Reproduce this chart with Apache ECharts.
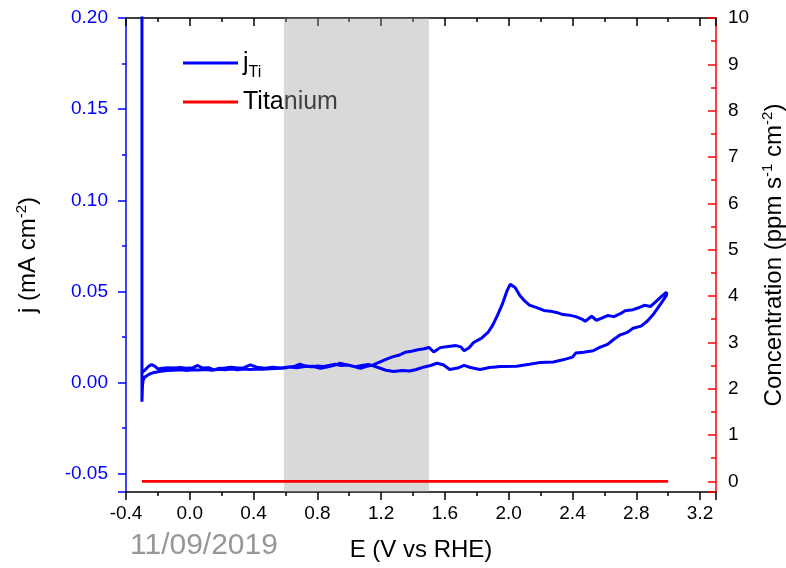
<!DOCTYPE html>
<html>
<head>
<meta charset="utf-8">
<script src="https://cdn.jsdelivr.net/npm/echarts@6/dist/echarts.min.js"></script>
<style>
html,body{margin:0;padding:0;background:#fff;}
#chart{width:786px;height:568px;}
</style>
</head>
<body>
<div id="chart"></div>
<script>
// Potential (V vs RHE) and current density (mA cm^-2) for the CV trace j_Ti
const cvE = [
  -0.300, -0.300, -0.298, -0.296, -0.292, -0.285, -0.27, -0.25, -0.23, -0.20, -0.17, -0.14, -0.10, -0.06, -0.02,
  0.02, 0.06, 0.10, 0.14, 0.18, 0.22, 0.26, 0.30, 0.34, 0.38, 0.42, 0.46, 0.50, 0.54, 0.58,
  0.62, 0.66, 0.69, 0.72, 0.76, 0.80, 0.84, 0.88, 0.91, 0.95, 0.99, 1.03, 1.07, 1.11, 1.15,
  1.19, 1.23, 1.27, 1.31, 1.35, 1.39, 1.43, 1.47, 1.50, 1.53, 1.57, 1.62, 1.67, 1.70, 1.72,
  1.75, 1.78, 1.83, 1.87, 1.90, 1.93, 1.96, 1.99, 2.01, 2.04, 2.07, 2.10, 2.13, 2.18, 2.22,
  2.26, 2.30, 2.34, 2.38, 2.42, 2.46, 2.48, 2.52, 2.55, 2.58, 2.62, 2.66, 2.70, 2.73, 2.78,
  2.82, 2.85, 2.89, 2.93, 2.96, 2.99, 3.00,
  2.99, 2.95, 2.91, 2.87, 2.83, 2.78, 2.74, 2.70, 2.66, 2.62, 2.57, 2.53, 2.47, 2.42, 2.40,
  2.34, 2.28, 2.20, 2.13, 2.05, 1.95, 1.88, 1.82, 1.76, 1.72, 1.68, 1.63, 1.59, 1.55, 1.51,
  1.47, 1.42, 1.38, 1.33, 1.28, 1.23, 1.19, 1.15, 1.12, 1.08, 1.04, 0.99, 0.94, 0.90, 0.86,
  0.82, 0.77, 0.72, 0.67, 0.62, 0.57, 0.52, 0.47, 0.42, 0.38, 0.34, 0.30, 0.26, 0.22, 0.18,
  0.15, 0.12, 0.08, 0.05, 0.02, -0.02, -0.06, -0.10, -0.14, -0.18, -0.20, -0.22, -0.24, -0.26, -0.28,
  -0.30
];
const cvJ = [
  0.25, -0.0105, -0.005, -0.001, 0.0015, 0.0028, 0.0038, 0.0048, 0.0054, 0.0060, 0.0063, 0.0066, 0.0068, 0.0070, 0.0067,
  0.0071, 0.0069, 0.0072, 0.0068, 0.0073, 0.0071, 0.0074, 0.0070, 0.0074, 0.0072, 0.0075, 0.0073, 0.0076, 0.0077, 0.0079,
  0.0084, 0.0090, 0.0101, 0.0092, 0.0087, 0.0091, 0.0088, 0.0096, 0.0101, 0.0094, 0.0097, 0.0088, 0.0079, 0.0090, 0.0097,
  0.0112, 0.0127, 0.0141, 0.0150, 0.0166, 0.0172, 0.0180, 0.0186, 0.0193, 0.0168, 0.0192, 0.0198, 0.0203, 0.0196, 0.0175,
  0.0190, 0.0220, 0.0244, 0.0275, 0.0315, 0.0370, 0.0430, 0.0505, 0.0540, 0.0522, 0.0478, 0.0448, 0.0425, 0.0410, 0.0396,
  0.0392, 0.0385, 0.0373, 0.0370, 0.0362, 0.0348, 0.0336, 0.0364, 0.0342, 0.0352, 0.0368, 0.0362, 0.0378, 0.0394, 0.0400,
  0.0412, 0.0424, 0.0418, 0.0450, 0.0474, 0.0496, 0.0505,
  0.0480, 0.0428, 0.0378, 0.0338, 0.0310, 0.0298, 0.0274, 0.0262, 0.0238, 0.0210, 0.0193, 0.0175, 0.0167, 0.0162, 0.0140,
  0.0125, 0.0113, 0.0111, 0.0101, 0.0090, 0.0088, 0.0083, 0.0072, 0.0083, 0.0095, 0.0080, 0.0072, 0.0098, 0.0106, 0.0094,
  0.0086, 0.0072, 0.0064, 0.0066, 0.0061, 0.0068, 0.0080, 0.0092, 0.0100, 0.0094, 0.0087, 0.0096, 0.0106, 0.0093, 0.0085,
  0.0079, 0.0090, 0.0088, 0.0082, 0.0086, 0.0080, 0.0084, 0.0079, 0.0085, 0.0097, 0.0082, 0.0080, 0.0084, 0.0080, 0.0078,
  0.0070, 0.0082, 0.0080, 0.0094, 0.0082, 0.0079, 0.0083, 0.0080, 0.0082, 0.0078, 0.0075, 0.0090, 0.0099, 0.0088, 0.0070,
  0.0055
];
// Titanium concentration (ppm s^-1 cm^-2)
const tiE = [-0.30, 0.20, 0.70, 1.20, 1.70, 2.20, 2.70, 3.00];
const tiConc = [0, 0, 0, 0, 0, 0, 0, 0];
// Shaded potential window
const bandE = [0.59, 1.50];
const dateText = '11/09/2019';

const FONT = 'Liberation Sans, Arial, sans-serif';
const cvData = cvE.map((e, i) => [e, cvJ[i]]);
const tiData = tiE.map((e, i) => [e, tiConc[i]]);

const chart = echarts.init(document.getElementById('chart'), null, {renderer: 'canvas'});
chart.setOption({
  animation: false,
  backgroundColor: '#fff',
  textStyle: {fontFamily: FONT},
  grid: {left: 126, right: 70, top: 18, bottom: 76, containLabel: false, outerBoundsMode: 'none'},
  legend: {
    data: ['jTi', 'Titanium'],
    orient: 'vertical',
    left: 183, top: 49, padding: 0,
    itemWidth: 55, itemHeight: 3, itemGap: 7,
    icon: 'rect',
    z: 1,
    selectedMode: false,
    formatter: n => n === 'jTi' ? '{m|j}{sub|Ti}' : '{m|' + n + '}',
    textStyle: {
      fontFamily: FONT, fontSize: 25, color: '#000', lineHeight: 28,
      rich: {
        m: {fontFamily: FONT, fontSize: 25, color: '#000', lineHeight: 28},
        sub: {fontFamily: FONT, fontSize: 16, color: '#000', verticalAlign: 'bottom', lineHeight: 28, padding: [0, 0, -4, 0]}
      }
    }
  },
  xAxis: [{
    type: 'value', position: 'bottom', min: -0.4, max: 3.3, interval: 0.4,
    axisLine: {onZero: false, lineStyle: {color: '#000', width: 1.5}},
    axisTick: {inside: false, length: 8, lineStyle: {color: '#000', width: 1.5}},
    minorTick: {show: true, splitNumber: 2, length: 4, lineStyle: {color: '#000', width: 1.5}},
    splitLine: {show: false},
    axisLabel: {showMaxLabel: false, fontSize: 19, color: '#000', fontFamily: FONT, margin: 12,
      formatter: v => (Math.round(v * 10) / 10).toFixed(1)},
    name: 'E (V vs RHE)', nameLocation: 'middle', nameGap: 46,
    nameTextStyle: {fontSize: 24, color: '#000', fontFamily: FONT}
  }, {
    type: 'value', position: 'top', min: -0.4, max: 3.3, interval: 0.4,
    axisLine: {onZero: false, lineStyle: {color: '#000', width: 1.5}},
    axisTick: {inside: true, length: 8, lineStyle: {color: '#000', width: 1.5}},
    minorTick: {show: true, splitNumber: 2, length: 4, lineStyle: {color: '#000', width: 1.5}},
    splitLine: {show: false},
    axisLabel: {show: false}
  }],
  yAxis: [{
    type: 'value', position: 'left', min: -0.06, max: 0.2, splitNumber: 5,
    axisLine: {onZero: false, lineStyle: {color: '#0000ff', width: 1.5}},
    axisTick: {inside: false, length: 8, lineStyle: {color: '#0000ff', width: 1.5}},
    minorTick: {show: true, splitNumber: 2, length: 4, lineStyle: {color: '#0000ff', width: 1.5}},
    splitLine: {show: false},
    axisLabel: {showMinLabel: false, fontSize: 19, color: '#0000ff', fontFamily: FONT, margin: 18,
      formatter: v => (Math.round(v * 100) / 100).toFixed(2)},
    name: '{m|j (mA cm}{sup|-2}{m|)}', nameLocation: 'middle', nameGap: 84, nameRotate: 90,
    nameTextStyle: {fontSize: 24, color: '#000', fontFamily: FONT,
      rich: {m: {fontSize: 24, color: '#000', fontFamily: FONT, lineHeight: 28},
             sup: {fontSize: 15, color: '#000', fontFamily: FONT, verticalAlign: 'top', lineHeight: 28}}}
  }, {
    type: 'value', position: 'right', min: -0.23, max: 10, splitNumber: 10,
    axisLine: {onZero: false, lineStyle: {color: '#ff0000', width: 1.5}},
    axisTick: {inside: true, length: 8, lineStyle: {color: '#ff0000', width: 1.5}},
    minorTick: {show: true, splitNumber: 2, length: 5, lineStyle: {color: '#ff0000', width: 1.5}},
    splitLine: {show: false},
    axisLabel: {showMinLabel: false, fontSize: 19, color: '#000', fontFamily: FONT, margin: 12,
      formatter: v => String(Math.round(v))},
    name: '{m|Concentration (ppm s}{sup|-1}{m| cm}{sup|-2}{m|)}', nameLocation: 'middle', nameGap: 35, nameRotate: 90,
    nameTextStyle: {fontSize: 24, color: '#000', fontFamily: FONT,
      rich: {m: {fontSize: 24, color: '#000', fontFamily: FONT, lineHeight: 28},
             sup: {fontSize: 15, color: '#000', fontFamily: FONT, verticalAlign: 'top', lineHeight: 28}}}
  }],
  series: [{
    name: 'jTi', type: 'line', xAxisIndex: 0, yAxisIndex: 0, data: cvData,
    showSymbol: false, clip: true, z: 3,
    lineStyle: {color: '#0000ff', width: 3}, itemStyle: {color: '#0000ff'}
  }, {
    name: 'Titanium', type: 'line', xAxisIndex: 0, yAxisIndex: 1, data: tiData,
    showSymbol: false, z: 3,
    lineStyle: {color: '#ff0000', width: 2.8}, itemStyle: {color: '#ff0000'}
  }, {
    name: 'band', type: 'line', xAxisIndex: 0, yAxisIndex: 0, data: [], z: 10,
    markArea: {silent: true, itemStyle: {color: 'rgba(160,160,160,0.4)'},
      data: [[{xAxis: bandE[0]}, {xAxis: bandE[1]}]]}
  }],
  graphic: [{
    type: 'text', left: 130, top: 531, z: 20,
    style: {text: dateText, fontSize: 30, fill: '#979797', fontFamily: FONT}
  }]
});
</script>
</body>
</html>
